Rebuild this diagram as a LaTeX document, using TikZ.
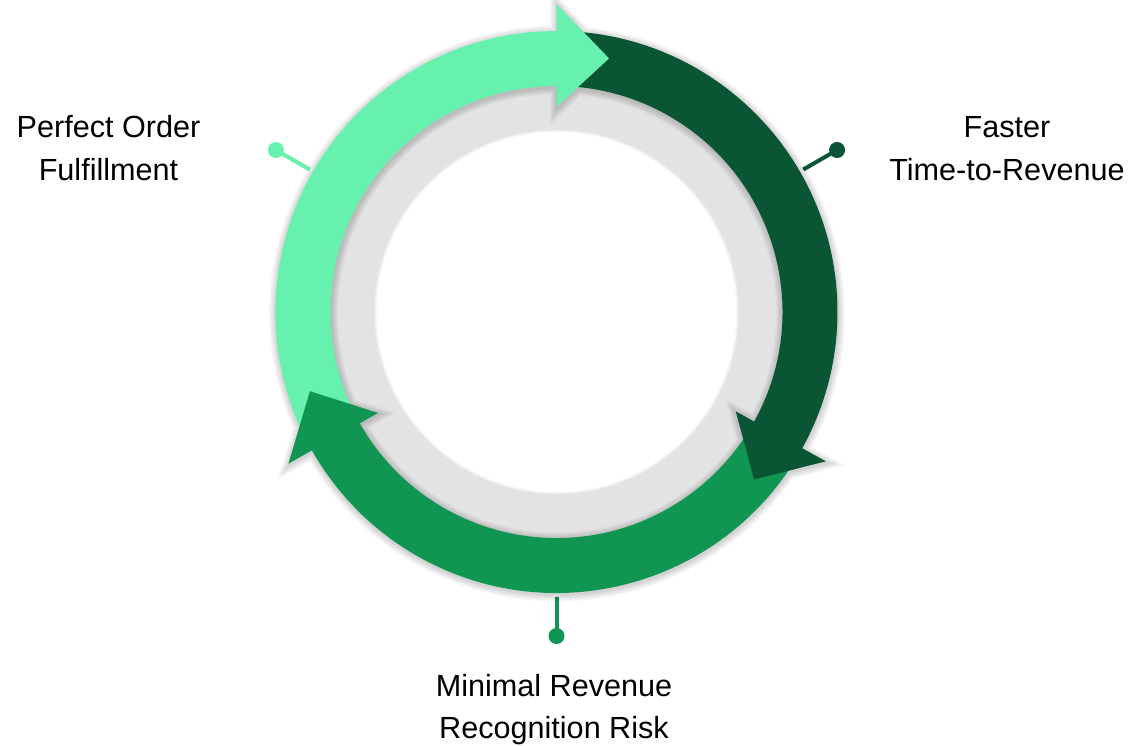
\documentclass[tikz,border=0pt]{standalone}
\usepackage{fontspec}
\setmainfont{Liberation Sans}
\definecolor{mint}{HTML}{66F2AE}
\definecolor{darkg}{HTML}{0A5634}
\definecolor{midg}{HTML}{109652}
\definecolor{ringgray}{HTML}{E3E3E3}
\tikzset{
  lbl/.style={anchor=base, inner sep=0pt, font=\fontsize{30.6}{36}\selectfont, text=black},
  dotc/.style={circle, fill=#1, minimum size=16pt, inner sep=0pt},
  conn/.style={draw=#1, line width=4pt},
  band/.style={fill=#1, draw=none},
}
\begin{document}
\begin{tikzpicture}[x=1pt,y=-1pt]
\useasboundingbox (0,0) rectangle (1130,745);
\fill[white] (0,0) rectangle (1130,745);
\begin{scope}[shift={(556.5,312)}, yscale=-1]
  % gray ring
  \fill[ringgray] (0,0) circle (228);
  \fill[white] (0,0) circle (180);
  \foreach \k in {1,...,4} {\draw[white, draw opacity=0.25, line width=\k*1.2pt] (0,0) circle (180);}
  % connectors
  \node[dotc=mint] (d1) at (150:324) {};
  \node[dotc=darkg] (d2) at (30:324) {};
  \node[dotc=midg] (d3) at (270:324) {};
  \coordinate (e1) at (150:285);
  \coordinate (e2) at (30:285);
  \coordinate (e3) at (270:285);
  \draw[conn=mint] (d1.center) -- (e1);
  \draw[conn=darkg] (d2.center) -- (e2);
  \draw[conn=midg] (d3.center) -- (e3);
  % shadow
  \begin{scope}[shift={(0.5,-1.5)}]
  \foreach \k in {1,...,9} {
    \draw[black, draw opacity=0.02, line width=\k*1.6pt]
      (0,0) circle (281) (0,0) circle (226)
      (90:205) -- (90:308) -- (78.5:259) -- cycle
      (-29:205) -- (-29:308) -- (-40.5:259) -- cycle
      (209.5:205) -- (209.5:308) -- (198:259) -- cycle;
  }
  \end{scope}
  % bands: both ends of each band lie under an arrowhead, hiding the seams
  \path[band=mint] (208.9:281) arc[start angle=208.9, end angle=88.8, radius=281]
     -- (88.8:226) arc[start angle=88.8, end angle=208.9, radius=226] -- cycle;
  \path[band=darkg] (89.4:281) arc[start angle=89.4, end angle=-30.2, radius=281]
     -- (-30.2:226) arc[start angle=-30.2, end angle=89.4, radius=226] -- cycle;
  \path[band=midg] (330.4:281) arc[start angle=330.4, end angle=208.3, radius=281]
     -- (208.3:226) arc[start angle=208.3, end angle=330.4, radius=226] -- cycle;
  % heads
  \path[band=mint] (90:205) -- (90:308) -- (78.3:259) -- cycle;
  \path[band=darkg] (-29:205) -- (-29:308) -- (-40.3:259) -- cycle;
  \path[band=midg] (209.5:205) -- (209.5:308) -- (197.8:259) -- cycle;
\end{scope}
% labels
\node[lbl] (l1a) at (108.5,137) {Perfect Order};
\node[lbl] (l1b) at (108.5,180) {Fulfillment};
\node[lbl] (l2a) at (1007,137) {Faster};
\node[lbl] (l2b) at (1007,180) {Time-to-Revenue};
\node[lbl] (l3a) at (554,696) {Minimal Revenue};
\node[lbl] (l3b) at (554,738) {Recognition Risk};
\end{tikzpicture}
\end{document}
